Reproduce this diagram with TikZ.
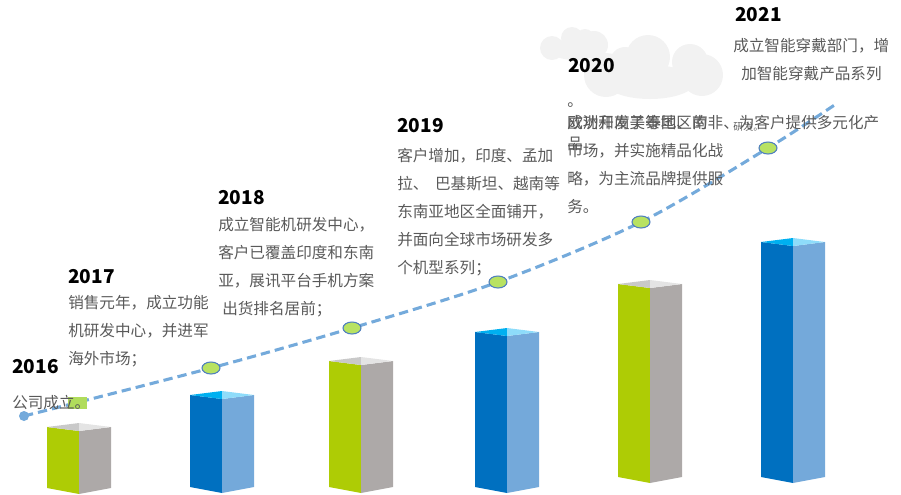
\documentclass[tikz,border=0pt]{standalone}
\usepackage{fontspec}
\setmainfont{Noto Sans CJK SC}
\usetikzlibrary{shapes.geometric}

\definecolor{textgray}{HTML}{595959}
\definecolor{trendblue}{HTML}{74AADB}
\definecolor{dotgreen}{HTML}{B8E262}
\definecolor{dotedge}{HTML}{4F7FBF}
\definecolor{hilite}{HTML}{B0DC5C}
\definecolor{cloudgray}{HTML}{F2F2F2}

\tikzset{yearlbl/.style = {anchor=west, inner sep=0, text=black, font=\fontsize{14.3}{16}\selectfont\bfseries}}
\tikzset{note/.style = {anchor=north west, inner sep=0, align=left, text=textgray, font=\fontsize{11.7}{21}\selectfont}}
\tikzset{trend/.style = {trendblue, line width=2.3pt, dash pattern=on 7pt off 3.8pt}}
\tikzset{milestone/.style = {ellipse, draw=dotedge, fill=dotgreen, line width=0.8pt, minimum width=13.5pt, minimum height=9pt, inner sep=0}}
\tikzset{startdot/.style = {circle, fill=trendblue, minimum size=7.5pt, inner sep=0}}
\tikzset{gfront/.style = {fill=black!0, fill={rgb,255:red,174;green,204;blue,5}}}
\tikzset{gside/.style = {fill={rgb,255:red,173;green,169;blue,168}}}
\tikzset{gtopl/.style = {fill={rgb,255:red,201;green,201;blue,201}}}
\tikzset{gtopr/.style = {fill={rgb,255:red,228;green,228;blue,228}}}
\tikzset{bfront/.style = {fill={rgb,255:red,0;green,112;blue,192}}}
\tikzset{bside/.style = {fill={rgb,255:red,116;green,169;blue,218}}}
\tikzset{btopl/.style = {fill={rgb,255:red,0;green,176;blue,240}}}
\tikzset{btopr/.style = {fill={rgb,255:red,142;green,220;blue,250}}}

\begin{document}
\begin{tikzpicture}[x=0.75pt, y=-0.75pt]
  \useasboundingbox (0,0) rectangle (901,494);

  % clouds
  \fill[cloudgray] (572,38) circle (11) (552,48) circle (12) (594,45) circle (14)
    (585,38) circle (9) (575,50) ellipse (25 and 10);
  \fill[cloudgray] (648,57) circle (22) (690,62) circle (18) (702,75) circle (21)
    (606,75) circle (22) (625,62) circle (15) (650,82) ellipse (45 and 17);

  % columns
  \foreach \x/\t/\b/\c [count=\n] in {47/427/488/g, 190/395/487/b, 329/361/487/g,
      475/332/487/b, 618/284/477/g, 761/242/477/b}{
    \fill[\c front] (\x,\t) -- (\x+32,\t+4) -- (\x+32,\b+6) -- (\x,\b) -- cycle;
    \fill[\c side] (\x+32,\t+4) -- (\x+64,\t) -- (\x+64,\b) -- (\x+32,\b+6) -- cycle;
    \fill[\c topl] (\x,\t) -- (\x+32,\t-4) -- (\x+32,\t+4) -- cycle;
    \fill[\c topr] (\x+32,\t-4) -- (\x+64,\t) -- (\x+32,\t+4) -- cycle;
  }

  % trend line
  \coordinate (p0) at (24,416);
  \coordinate (p1) at (211,368);
  \coordinate (p2) at (352,328);
  \coordinate (p3) at (498,282);
  \coordinate (p4) at (641,222);
  \coordinate (p5) at (768,148);
  \coordinate (pend) at (836,104);
  \draw[trend] plot[smooth] coordinates {(p0) (p1) (p2) (p3) (p4) (p5) (pend)};
  \node[startdot] (s0) at (p0) {};
  \foreach \i in {1,...,5}
    \node[milestone] (m\i) at (p\i) {};

  % 2016
  \fill[hilite] (68,397) rectangle (87,409);
  \node[yearlbl] (y2016) at (12,367) {2016};
  \node[note] (t2016) at (12,395) {公司成立。};

  % 2017
  \node[yearlbl] (y2017) at (68,277) {2017};
  \node[note] (t2017) at (68,295) {销售元年，成立功能\\机研发中心，并进军\\海外市场；};

  % 2018
  \node[yearlbl] (y2018) at (218,198) {2018};
  \node[note] (t2018) at (218,217) {成立智能机研发中心，\\客户已覆盖印度和东南\\亚，展讯平台手机方案\\\hspace{3pt}出货排名居前；};

  % 2019
  \node[yearlbl] (y2019) at (397,126) {2019};
  \node[note] (t2019) at (397,148) {客户增加，印度、孟加\\拉、\hspace{5pt}巴基斯坦、越南等\\东南亚地区全面铺开，\\并面向全球市场研发多\\个机型系列；};

  % 2020
  \node[yearlbl] (y2020) at (568,66) {2020};
  \node[note] (t2020) at (567,115) {欧洲和南美等地区的\\市场，并实施精品化战\\略，为主流品牌提供服\\务。};
  \node[note, font=\fontsize{11.7}{16}\selectfont] (t2020a) at (567,93.5) {\vphantom{成}。\\成功开发了泰国、南非、为客户提供多元化产\\品};
  \node[note, anchor=west, font=\fontsize{7.5}{9}\selectfont] (t2020b) at (733,127) {研发。};

  % 2021
  \node[yearlbl] (y2021) at (735,15) {2021};
  \node[note] (t2021) at (733,38) {成立智能穿戴部门，增\\\hspace{6pt}加智能穿戴产品系列};
\end{tikzpicture}
\end{document}
